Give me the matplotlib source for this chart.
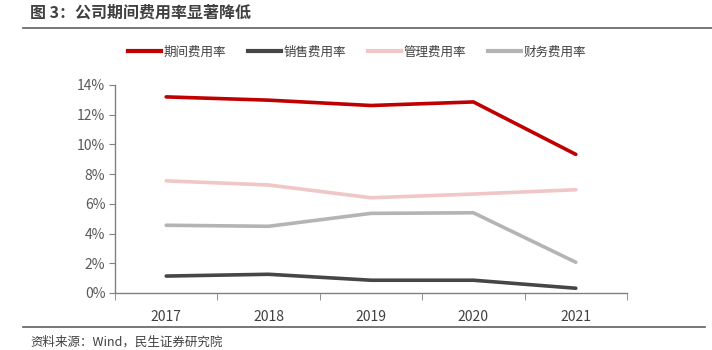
import numpy as np
import matplotlib
matplotlib.use('Agg')
import matplotlib.pyplot as plt
from matplotlib.lines import Line2D
from matplotlib.ticker import FuncFormatter, FixedLocator

plt.rcParams['font.family'] = ['Noto Sans CJK SC', 'DejaVu Sans']

years = ['2017', '2018', '2019', '2020', '2021']
period_rate = [13.2, 12.98, 12.62, 12.86, 9.33]
sales_rate = [1.14, 1.26, 0.86, 0.86, 0.32]
admin_rate = [7.55, 7.27, 6.41, 6.66, 6.95]
finance_rate = [4.56, 4.49, 5.36, 5.4, 2.07]

names = ['期间费用率', '销售费用率', '管理费用率', '财务费用率']
colors = ['#C00000', '#464646', '#F0C6C6', '#B4B4B4']

fig = plt.figure(figsize=(7.12, 3.5), dpi=100)
ax = fig.add_axes([115/712, 57/350, 512/712, 208/350])

x = np.arange(len(years))
for vals, c in zip([period_rate, sales_rate, admin_rate, finance_rate], colors):
    ax.plot(x, vals, color=c, lw=2.6, solid_capstyle='round', solid_joinstyle='round')

ax.set_xlim(-0.5, len(years) - 0.5)
ax.set_ylim(0, 14)
ax.set_yticks(np.arange(0, 15, 2))
ax.yaxis.set_major_formatter(FuncFormatter(lambda v, p: f'{v:.0f}%'))
ax.set_xticks(x)
ax.set_xticklabels(years)
ax.xaxis.set_minor_locator(FixedLocator(np.arange(-0.5, len(years), 1)))
ax.tick_params(axis='x', which='major', length=0, pad=12, labelsize=10, labelcolor='#404040')
ax.tick_params(axis='x', which='minor', length=5, color='#808080', direction='out')
ax.tick_params(axis='y', length=4, color='#808080', labelsize=10, labelcolor='#595959', pad=3)

for s in ['top', 'right']:
    ax.spines[s].set_visible(False)
for s in ['left', 'bottom']:
    ax.spines[s].set_color('#808080')
    ax.spines[s].set_linewidth(1)

# legend
handles = [Line2D([0], [0], color=c, lw=3) for c in colors]
fig.legend(handles, names, loc='center', bbox_to_anchor=(357/712, 1 - 52/350), ncol=4,
           frameon=False, fontsize=9, handlelength=2.6, handletextpad=0.2,
           columnspacing=1.8, labelcolor='#404040')

# title and source
fig.text(30/712, 1 - 13/350, '图 3：公司期间费用率显著降低', fontsize=11.5, fontweight='bold',
         color='#404040', va='center', ha='left')
fig.add_artist(Line2D([23/712, 1], [1 - 28/350, 1 - 28/350], color='#606060', lw=1.2))
fig.add_artist(Line2D([23/712, 705/712], [1 - 327/350, 1 - 327/350], color='#606060', lw=1.2))
fig.text(30/712, 1 - 342/350, '资料来源：Wind，民生证券研究院', fontsize=9,
         color='#404040', va='center', ha='left')

fig.savefig('out.png', dpi=100)
